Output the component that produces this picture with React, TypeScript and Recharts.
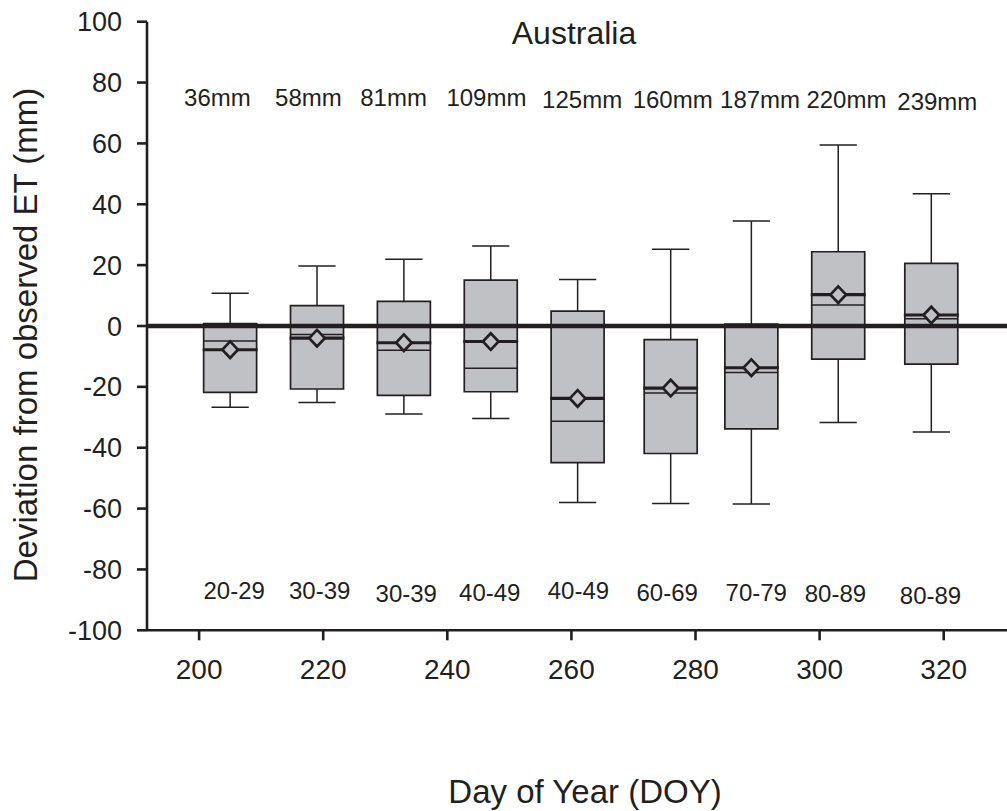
import React from 'react';
import { ComposedChart, XAxis, YAxis, Scatter, ReferenceArea, ReferenceLine } from 'recharts';

// ---- data ----
const doy = [205, 219, 233, 247, 261, 276, 289, 303, 318];
const whiskerLow = [-26.7, -25.1, -28.9, -30.4, -58.0, -58.3, -58.5, -31.7, -34.8];
const q1 = [-21.8, -20.7, -22.8, -21.6, -44.9, -41.9, -33.8, -10.9, -12.5];
const median = [-4.9, -2.8, -8.0, -13.9, -31.3, -22.0, -15.3, 6.9, 2.4];
const mean = [-7.8, -4.0, -5.5, -5.1, -23.8, -20.4, -13.7, 10.3, 3.6];
const q3 = [0.8, 6.7, 8.1, 15.1, 4.9, -4.5, 0.6, 24.4, 20.6];
const whiskerHigh = [10.8, 19.7, 21.9, 26.3, 15.3, 25.2, 34.5, 59.5, 43.5];
const rainfallLabels = ['36mm', '58mm', '81mm', '109mm', '125mm', '160mm', '187mm', '220mm', '239mm'];
const rangeLabels = ['20-29', '30-39', '30-39', '40-49', '40-49', '60-69', '70-79', '80-89', '80-89'];
const xTicks = [200, 220, 240, 260, 280, 300, 320];
const yTicks = [-100, -80, -60, -40, -20, 0, 20, 40, 60, 80, 100];

// ---- layout / style ----
const FONT = '"Liberation Sans", Arial, Helvetica, sans-serif';
const INK = '#231f20';
const BOX_FILL = '#c0c1c4';
const BOX_HALF = 4.27;
const CAP_HALF = 3.0;
const TOP_LABEL_Y = 75;
const BOTTOM_LABEL_Y = -87;
const topNudgeX = [-12.7, -8.6, -10.3, -4.3, 4.5, 2, 8.7, 8.2, 6];
const topNudgeY = [0, 0, 0, 0, 2, 2, 2, 1.5, 4];
const bottomNudgeX = [4, 2.7, 2.4, -1, 0.8, -3.5, 4.9, -2.8, -0.8];
const bottomNudgeY = [0, 0, 2.5, 2, 0, 2, 2, 2.5, 4.5];

const Diamond = (props: any) => {
  const { cx, cy } = props;
  if (cx == null || cy == null) return null;
  const w = 7.8;
  const h = 8.3;
  return (
    <polygon
      points={`${cx - w},${cy} ${cx},${cy - h} ${cx + w},${cy} ${cx},${cy + h}`}
      fill={BOX_FILL}
      stroke={INK}
      strokeWidth={2.7}
    />
  );
};

const TextMark = (props: any) => {
  const { cx, cy, payload } = props;
  if (cx == null || cy == null) return null;
  return (
    <text
      x={cx + payload.nx}
      y={cy + payload.ny}
      textAnchor="middle"
      dominantBaseline="central"
      fontFamily={FONT}
      fontSize={24}
      fill={INK}
    >
      {payload.label}
    </text>
  );
};

export default function App() {
  const meanRows = doy.map((x, i) => ({ x, y: mean[i] }));
  const topRows = doy.map((x, i) => ({ x, y: TOP_LABEL_Y, label: rainfallLabels[i], nx: topNudgeX[i], ny: topNudgeY[i] }));
  const bottomRows = doy.map((x, i) => ({ x, y: BOTTOM_LABEL_Y, label: rangeLabels[i], nx: bottomNudgeX[i], ny: bottomNudgeY[i] }));

  const tickStyle = { fontSize: 27, fill: INK, fontFamily: FONT };

  return (
    <div style={{ position: 'absolute', left: 0, top: 0, width: 1007, height: 811, background: '#fff' }}>
      <ComposedChart width={1007} height={811} margin={{ top: 21.7, right: 0, bottom: 120.7, left: 87 }}>
        <XAxis
          type="number"
          dataKey="x"
          domain={[191.6, 330.2]}
          allowDataOverflow
          ticks={xTicks}
          interval={0}
          height={60}
          tickSize={10}
          tickMargin={19}
          axisLine={{ stroke: INK, strokeWidth: 2.6 }}
          tickLine={{ stroke: INK, strokeWidth: 2.6 }}
          tick={{ ...tickStyle, fontSize: 28 }}
        />
        <YAxis
          type="number"
          dataKey="y"
          domain={[-100, 100]}
          allowDataOverflow
          ticks={yTicks}
          interval={0}
          width={60}
          tickSize={10}
          tickMargin={15}
          axisLine={{ stroke: INK, strokeWidth: 2.6 }}
          tickLine={{ stroke: INK, strokeWidth: 2.6 }}
          tick={tickStyle}
        />
        {doy.map((x, i) => (
          <ReferenceArea
            key={'box' + i}
            x1={x - BOX_HALF}
            x2={x + BOX_HALF}
            y1={q1[i]}
            y2={q3[i]}
            fill={BOX_FILL}
            fillOpacity={1}
            stroke={INK}
            strokeWidth={1.7}
          />
        ))}
        {doy.map((x, i) => (
          <ReferenceLine key={'wu' + i} segment={[{ x, y: q3[i] }, { x, y: whiskerHigh[i] }]} stroke={INK} strokeWidth={1.5} />
        ))}
        {doy.map((x, i) => (
          <ReferenceLine key={'wl' + i} segment={[{ x, y: whiskerLow[i] }, { x, y: q1[i] }]} stroke={INK} strokeWidth={1.5} />
        ))}
        {doy.map((x, i) => (
          <ReferenceLine key={'cu' + i} segment={[{ x: x - CAP_HALF, y: whiskerHigh[i] }, { x: x + CAP_HALF, y: whiskerHigh[i] }]} stroke={INK} strokeWidth={1.5} />
        ))}
        {doy.map((x, i) => (
          <ReferenceLine key={'cl' + i} segment={[{ x: x - CAP_HALF, y: whiskerLow[i] }, { x: x + CAP_HALF, y: whiskerLow[i] }]} stroke={INK} strokeWidth={1.5} />
        ))}
        <ReferenceLine y={0} stroke={INK} strokeWidth={4.3} />
        {doy.map((x, i) => (
          <ReferenceLine key={'md' + i} segment={[{ x: x - BOX_HALF, y: median[i] }, { x: x + BOX_HALF, y: median[i] }]} stroke={INK} strokeWidth={1.5} />
        ))}
        {doy.map((x, i) => (
          <ReferenceLine key={'mn' + i} segment={[{ x: x - BOX_HALF - 0.15, y: mean[i] }, { x: x + BOX_HALF + 0.15, y: mean[i] }]} stroke={INK} strokeWidth={3.1} />
        ))}
        <Scatter data={meanRows} dataKey="y" shape={Diamond} isAnimationActive={false} />
        <Scatter data={topRows} dataKey="y" shape={TextMark} isAnimationActive={false} />
        <Scatter data={bottomRows} dataKey="y" shape={TextMark} isAnimationActive={false} />
        <text x={574} y={43.6} textAnchor="middle" fontFamily={FONT} fontSize={32} fill={INK}>
          Australia
        </text>
        <text x={585} y={803} textAnchor="middle" fontFamily={FONT} fontSize={33} fill={INK}>
          Day of Year (DOY)
        </text>
        <text transform="translate(37,335) rotate(-90)" x={0} y={0} textAnchor="middle" fontFamily={FONT} fontSize={33} fill={INK}>
          Deviation from observed ET (mm)
        </text>
      </ComposedChart>
    </div>
  );
}
